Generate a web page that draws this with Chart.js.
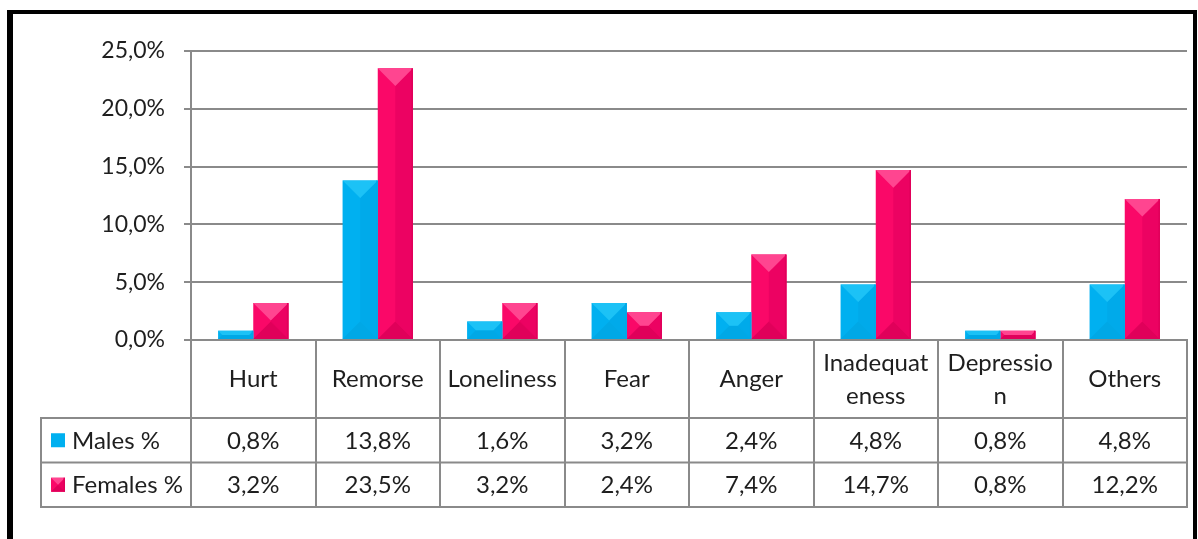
<!DOCTYPE html>
<html>
<head>
<meta charset="utf-8">
<script src="https://cdn.jsdelivr.net/npm/chart.js@4/dist/chart.umd.min.js"></script>
<style>
  html, body { margin: 0; padding: 0; background: #fff; overflow: hidden; }
  #wrap { position: relative; width: 1198px; height: 539px; }
  #frame {
    position: absolute; left: 7px; top: 10px; width: 1180px; height: 600px;
    border-left: 6px solid #000; border-top: 4px solid #000; border-right: 4px solid #000;
    pointer-events: none;
  }
</style>
</head>
<body>
<div id="wrap">
  <canvas id="c" width="1198" height="539"></canvas>
  <div id="frame"></div>
</div>
<script>
// Emotions reported, share of respondents by sex
const categories = ['Hurt', 'Remorse', 'Loneliness', 'Fear', 'Anger', ['Inadequat', 'eness'], ['Depressio', 'n'], 'Others'];
const seriesNames = ['Males %', 'Females %'];
const males = [0.8, 13.8, 1.6, 3.2, 2.4, 4.8, 0.8, 4.8];
const females = [3.2, 23.5, 3.2, 2.4, 7.4, 14.7, 0.8, 12.2];
const yTicks = [0, 5, 10, 15, 20, 25];

const fmt = v => v.toFixed(1).replace('.', ',') + '%';

const FONT = 'Lato, "Open Sans", sans-serif';
const TEXT = '#1e1e1e';
const LINE = '#8a8a8a';

// bevel shades per series: base, top face, right face, bottom face
const shades = [
  { base: '#00b0f0', top: '#1cc2f6', right: '#00aaea', bottom: '#00a8e6' },
  { base: '#fa0868', top: '#ff4590', right: '#ec0262', bottom: '#e0005a' }
];

function bevel(ctx, left, top, right, bottom, s) {
  const w = right - left, h = bottom - top;
  if (w <= 0 || h <= 0) return;
  const d = Math.min(w / 2, h / 2);
  ctx.save();
  ctx.fillStyle = s.right;
  ctx.beginPath();
  ctx.moveTo(right, top); ctx.lineTo(right, bottom);
  ctx.lineTo(right - d, bottom - d); ctx.lineTo(right - d, top + d);
  ctx.closePath(); ctx.fill();
  ctx.fillStyle = s.bottom;
  ctx.beginPath();
  ctx.moveTo(left, bottom); ctx.lineTo(right, bottom);
  ctx.lineTo(right - d, bottom - d); ctx.lineTo(left + d, bottom - d);
  ctx.closePath(); ctx.fill();
  ctx.fillStyle = s.top;
  ctx.beginPath();
  ctx.moveTo(left, top); ctx.lineTo(right, top);
  ctx.lineTo(right - d, top + d); ctx.lineTo(left + d, top + d);
  ctx.closePath(); ctx.fill();
  // thin darker rim on the right edge
  ctx.fillStyle = s.bottom;
  ctx.fillRect(right - 1.5, top, 1.5, h);
  ctx.restore();
}

const bevelPlugin = {
  id: 'bevelBars',
  afterDatasetsDraw(chart) {
    const ctx = chart.ctx;
    chart.data.datasets.forEach((ds, di) => {
      chart.getDatasetMeta(di).data.forEach(bar => {
        const p = bar.getProps(['x', 'y', 'base', 'width'], true);
        bevel(ctx, p.x - p.width / 2, Math.min(p.y, p.base), p.x + p.width / 2, Math.max(p.y, p.base), shades[di]);
      });
    });
  }
};

// data table under the plot: legend column, category grid and value rows
const tablePlugin = {
  id: 'dataTable',
  afterDraw(chart) {
    const ctx = chart.ctx;
    const xs = chart.scales.x;
    const ca = chart.chartArea;
    const n = categories.length;
    const colW = xs.width / n;
    const headTop = ca.bottom;
    const headBottom = headTop + 78;
    const rowH = 44.5;
    const rowsBottom = headBottom + rowH * 2;
    const legendLeft = 41;

    ctx.save();
    ctx.strokeStyle = LINE;
    ctx.lineWidth = 2;
    ctx.beginPath();
    for (let i = 0; i <= n; i++) {
      const bx = Math.round(xs.getPixelForValue(0) - colW / 2 + i * colW);
      ctx.moveTo(bx, headTop); ctx.lineTo(bx, rowsBottom);
    }
    ctx.moveTo(legendLeft, headBottom); ctx.lineTo(legendLeft, rowsBottom);
    [headBottom, headBottom + rowH, rowsBottom].forEach(ly => {
      ctx.moveTo(legendLeft - 1, ly); ctx.lineTo(xs.right + 1, ly);
    });
    ctx.stroke();

    const rows = [males, females];
    ctx.font = '24px ' + FONT;
    ctx.textBaseline = 'middle';
    rows.forEach((vals, r) => {
      const cy = headBottom + rowH * r + rowH / 2;
      // legend key
      const kx = 51, ky = cy - 7, ks = 14;
      ctx.fillStyle = shades[r].base;
      ctx.fillRect(kx, ky, ks, ks);
      if (r === 1) bevel(ctx, kx, ky, kx + ks, ky + ks, shades[r]);
      ctx.fillStyle = TEXT;
      ctx.textAlign = 'left';
      ctx.fillText(seriesNames[r], 72, cy + 1);
      ctx.textAlign = 'center';
      vals.forEach((v, i) => {
        ctx.fillText(fmt(v), xs.getPixelForValue(i), cy + 1);
      });
    });
    ctx.restore();
  }
};

Chart.defaults.font.family = FONT;
Chart.defaults.color = TEXT;

new Chart(document.getElementById('c'), {
  type: 'bar',
  data: {
    labels: categories,
    datasets: [
      { label: seriesNames[0], data: males, backgroundColor: shades[0].base, borderWidth: 0 },
      { label: seriesNames[1], data: females, backgroundColor: shades[1].base, borderWidth: 0 }
    ]
  },
  options: {
    responsive: false,
    animation: false,
    devicePixelRatio: 1,
    layout: { padding: { left: 0, right: 11, top: 51, bottom: 0 } },
    datasets: { bar: { categoryPercentage: 0.565, barPercentage: 1 } },
    plugins: { legend: { display: false }, tooltip: { enabled: false } },
    scales: {
      x: {
        offset: true,
        grid: { display: false, drawTicks: false },
        border: { display: true, color: LINE, width: 2 },
        ticks: {
          padding: 23,
          maxRotation: 0,
          autoSkip: false,
          crossAlign: 'center',
          color: TEXT,
          font: { size: 24, lineHeight: 1.375 }
        },
        afterFit(s) { s.height = 199; }
      },
      y: {
        min: 0,
        max: 25,
        afterBuildTicks(s) { s.ticks = yTicks.map(v => ({ value: v })); },
        grid: { color: LINE, lineWidth: 2, tickLength: 7, drawTicks: true },
        border: { display: true, color: LINE, width: 2 },
        ticks: {
          padding: 19,
          color: TEXT,
          font: { size: 23 },
          callback: v => fmt(v)
        },
        afterFit(s) { s.width = 191; }
      }
    }
  },
  plugins: [bevelPlugin, tablePlugin]
});
</script>
</body>
</html>
